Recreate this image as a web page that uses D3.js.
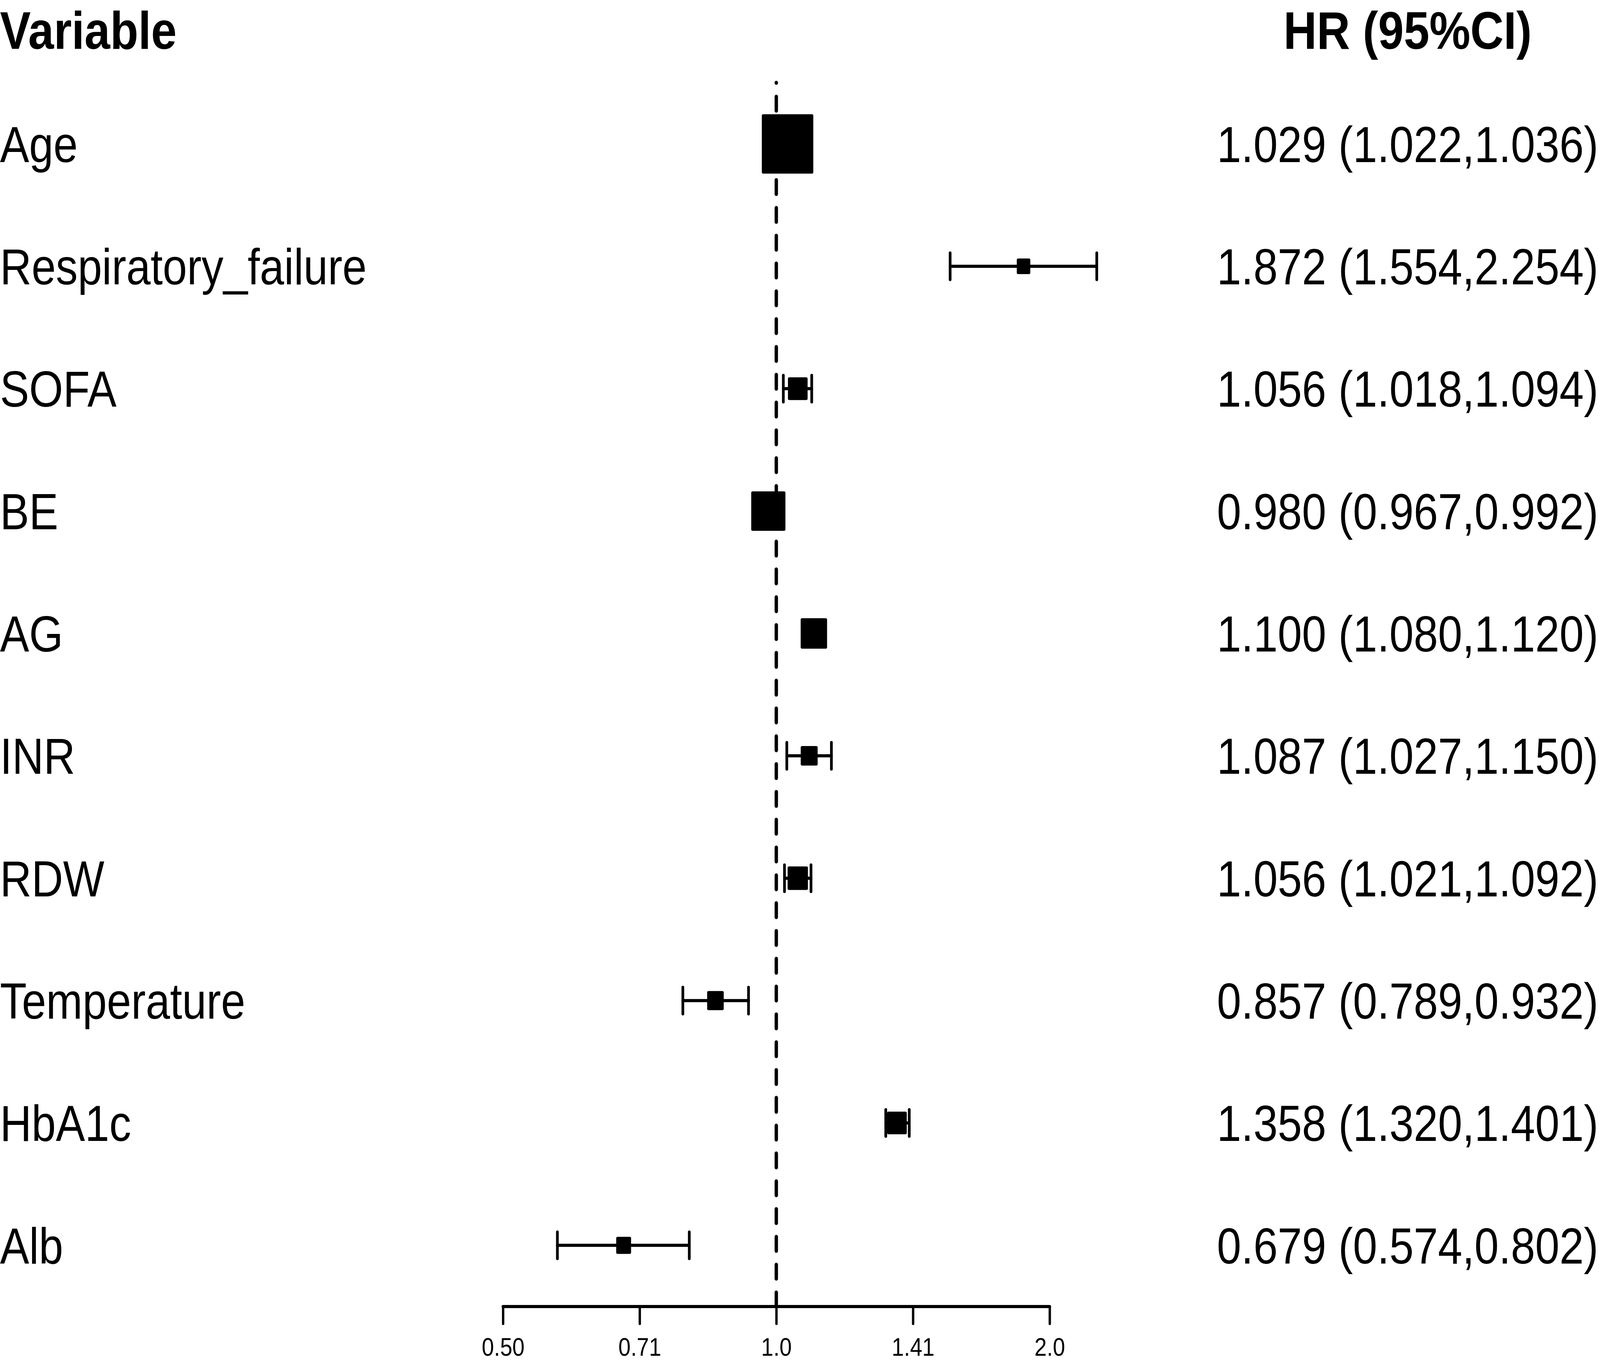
<!DOCTYPE html>
<html>
<head>
<meta charset="utf-8">
<script src="https://cdn.jsdelivr.net/npm/d3@7"></script>
<style>
  html, body { margin: 0; padding: 0; background: #ffffff; overflow: hidden; }
  #chart { width: 100vw; height: 100vh; }
  svg { display: block; width: 100%; height: 100%; }
</style>
</head>
<body>
<div id="chart"></div>
<script>
const variables = ["Age", "Respiratory_failure", "SOFA", "BE", "AG", "INR", "RDW", "Temperature", "HbA1c", "Alb"];
const hr = [1.029, 1.872, 1.056, 0.980, 1.100, 1.087, 1.056, 0.857, 1.358, 0.679];
const lower = [1.022, 1.554, 1.018, 0.967, 1.080, 1.027, 1.021, 0.789, 1.320, 0.574];
const upper = [1.036, 2.254, 1.094, 0.992, 1.120, 1.150, 1.092, 0.932, 1.401, 0.802];
// relative box weight
const weights = [1, 0.263, 0.382, 0.664, 0.513, 0.329, 0.395, 0.322, 0.382, 0.289];
const tickValues = [0.5, 0.7071, 1, 1.4142, 2];
const tickLabels = ["0.50", "0.71", "1.0", "1.41", "2.0"];
const headers = ["Variable", "HR (95%CI)"];

const width = 4724;
const height = 3487;
const font = "'Liberation Sans', Arial, Helvetica, sans-serif";
const axisY = 3345;

const rows = variables.map((name, i) => ({
  name,
  hr: hr[i],
  lower: lower[i],
  upper: upper[i],
  weight: weights[i]
}));

// drawing space is the reference's 4724 x 3487, stretched onto whatever the window is
const svg = d3.select("#chart")
  .append("svg")
  .attr("viewBox", `0 0 ${width} ${height}`)
  .attr("preserveAspectRatio", "none");

const x = d3.scaleLog().base(2).domain([0.5, 2]).range([1485, 3099]);
const y = d3.scaleBand().domain(["__header", ...variables]).range([-101.5, axisY]).paddingInner(0).paddingOuter(0);
const yCenter = (key) => y(key) + y.bandwidth() / 2;
const box = d3.scaleLinear().domain([0, 1]).range([0, 152]);

const bodySize = 129;
const headSize = 136;

// headers (kept just inside the top edge)
const headerY = Math.max(yCenter("__header") + headSize * 0.358, headSize * 0.92);

svg.append("text")
  .attr("x", 0)
  .attr("y", headerY)
  .attr("font-family", font)
  .attr("font-weight", 700)
  .attr("font-size", headSize)
  .attr("fill", "#000")
  .text(headers[0]);

svg.append("text")
  .attr("x", 4156)
  .attr("y", headerY)
  .attr("text-anchor", "middle")
  .attr("font-family", font)
  .attr("font-weight", 700)
  .attr("font-size", headSize)
  .attr("fill", "#000")
  .text(headers[1]);

// variable names
svg.append("g")
  .selectAll("text")
  .data(rows)
  .join("text")
  .attr("x", 0)
  .attr("y", (d) => yCenter(d.name) + bodySize * 0.358)
  .attr("font-family", font)
  .attr("font-size", bodySize)
  .attr("fill", "#000")
  .text((d) => d.name);

// HR (95%CI) column
svg.append("g")
  .selectAll("text")
  .data(rows)
  .join("text")
  .attr("x", 4156)
  .attr("y", (d) => yCenter(d.name) + bodySize * 0.358)
  .attr("text-anchor", "middle")
  .attr("font-family", font)
  .attr("font-size", bodySize)
  .attr("fill", "#000")
  .text((d) => `${d.hr.toFixed(3)} (${d.lower.toFixed(3)},${d.upper.toFixed(3)})`);

// reference line at HR = 1, drawn upward from the axis
svg.append("line")
  .attr("x1", x(1))
  .attr("x2", x(1))
  .attr("y1", axisY)
  .attr("y2", y(variables[0]))
  .attr("stroke", "#000")
  .attr("stroke-width", 10)
  .attr("stroke-dasharray", "36 35.2")
  .attr("stroke-linecap", "round");

// confidence intervals
const ci = svg.append("g")
  .attr("stroke", "#000")
  .attr("stroke-width", 8)
  .attr("stroke-linecap", "round");

rows.forEach((d) => {
  const cy = yCenter(d.name);
  ci.append("line")
    .attr("x1", x(d.lower))
    .attr("x2", x(d.upper))
    .attr("y1", cy)
    .attr("y2", cy);
  [d.lower, d.upper].forEach((v) => {
    ci.append("line")
      .attr("x1", x(v))
      .attr("x2", x(v))
      .attr("y1", cy - 34)
      .attr("y2", cy + 34);
  });
});

// boxes
svg.append("g")
  .selectAll("rect")
  .data(rows)
  .join("rect")
  .attr("x", (d) => x(d.hr) - box(d.weight) / 2)
  .attr("y", (d) => yCenter(d.name) - box(d.weight) / 2)
  .attr("width", (d) => box(d.weight))
  .attr("height", (d) => box(d.weight))
  .attr("rx", 4)
  .attr("fill", "#000");

// x axis
const axis = svg.append("g")
  .attr("transform", `translate(0,${axisY})`)
  .call(d3.axisBottom(x).tickValues(tickValues).tickSize(44).tickSizeOuter(0)
    .tickFormat((v, i) => tickLabels[i]));

axis.select(".domain")
  .attr("stroke", "#000")
  .attr("stroke-width", 8)
  .attr("stroke-linecap", "round")
  .attr("d", `M${x(0.5)},0H${x(2)}`);

axis.selectAll(".tick line")
  .attr("stroke", "#000")
  .attr("stroke-width", 7)
  .attr("stroke-linecap", "round");

axis.selectAll(".tick text")
  .attr("font-family", font)
  .attr("font-size", 65)
  .attr("fill", "#000")
  .attr("dy", 0)
  .attr("y", 126);
</script>
</body>
</html>
